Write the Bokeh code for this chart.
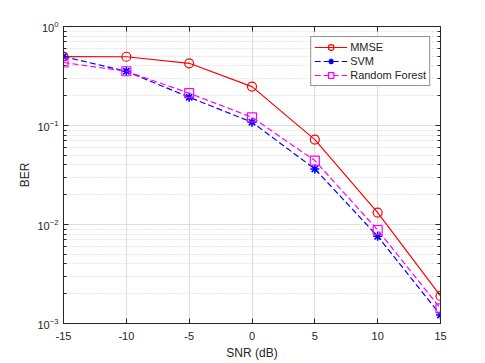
from bokeh.plotting import figure
from bokeh.models import Range1d, FixedTicker, LogAxis, LinearAxis, CustomJSTickFormatter
from bokeh.embed import file_html
from bokeh.resources import INLINE

# ---- data ----
snr = [-15, -10, -5, 0, 5, 10, 15]
ber_mmse = [0.497, 0.495, 0.425, 0.247, 0.072, 0.0132, 0.0019]
ber_svm = [0.497, 0.353, 0.193, 0.108, 0.0364, 0.0076, 0.00122]
ber_rf = [0.433, 0.353, 0.212, 0.121, 0.0442, 0.0088, 0.00142]

x_ticks = [-15, -10, -5, 0, 5, 10, 15]
y_ticks = [1e-3, 1e-2, 1e-1, 1.0]
y_minor = [m * d for d in (1e-3, 1e-2, 1e-1) for m in range(2, 10)]

FONT = "Liberation Sans"
AX = "#262626"

p = figure(frame_width=377, frame_height=297, y_axis_type="log",
           x_range=Range1d(-15, 15), y_range=Range1d(1e-3, 1.0),
           output_backend="svg", toolbar_location=None,
           min_border_left=63, min_border_right=38, min_border_top=26, min_border_bottom=37,
           background_fill_color="white", border_fill_color="white")
p.outline_line_color = AX
p.outline_line_width = 1

# axes
p.xaxis.ticker = FixedTicker(ticks=x_ticks)
p.xaxis.formatter = CustomJSTickFormatter(code="return String(tick)")
p.yaxis.ticker = FixedTicker(ticks=y_ticks, minor_ticks=y_minor)
for ax in (p.xaxis[0], p.yaxis[0]):
    ax.axis_line_color = AX
    ax.major_tick_line_color = AX
    ax.minor_tick_line_color = AX
    ax.major_tick_in = 5
    ax.major_tick_out = 0
    ax.minor_tick_in = 3
    ax.minor_tick_out = 0
    ax.major_label_text_font = FONT
    ax.major_label_text_font_size = "11px"
    ax.major_label_text_color = AX
    ax.axis_label_text_font = FONT
    ax.axis_label_text_font_size = "12px"
    ax.axis_label_text_font_style = "normal"
    ax.axis_label_text_color = AX
p.xaxis.minor_tick_line_color = None
p.xaxis.axis_label = "SNR (dB)"
p.yaxis.axis_label = "BER"
p.xaxis.major_label_standoff = 8
p.xaxis.axis_label_standoff = 3
p.yaxis.major_label_standoff = 5
p.yaxis.axis_label_standoff = 2

blank = CustomJSTickFormatter(code="return ''")
ra = LogAxis(ticker=FixedTicker(ticks=y_ticks, minor_ticks=y_minor), formatter=blank,
             axis_line_color=AX, major_tick_line_color=AX, minor_tick_line_color=AX,
             major_tick_in=5, major_tick_out=0, minor_tick_in=3, minor_tick_out=0,
             major_label_text_font_size="1px", major_label_standoff=0)
p.add_layout(ra, "right")
ta = LinearAxis(ticker=FixedTicker(ticks=x_ticks), formatter=blank,
                axis_line_color=AX, major_tick_line_color=AX, minor_tick_line_color=None,
                major_tick_in=5, major_tick_out=0,
                major_label_text_font_size="1px", major_label_standoff=0)
p.add_layout(ta, "above")

# grids
p.xgrid.ticker = FixedTicker(ticks=x_ticks)
p.ygrid.ticker = FixedTicker(ticks=y_ticks, minor_ticks=y_minor)
p.xgrid.grid_line_color = "#dedede"
p.ygrid.grid_line_color = "#dedede"
p.ygrid.minor_grid_line_color = "#d0d0d0"
p.ygrid.minor_grid_line_dash = "1 2"

# series
p.line(snr, ber_mmse, color="#ff0000", line_width=1.2, legend_label="MMSE")
p.scatter(snr, ber_mmse, marker="circle", size=9, fill_color=None,
          line_color="#ff0000", line_width=1.2, legend_label="MMSE")
p.line(snr, ber_svm, color="#0000ff", line_width=1.2, line_dash="6 3", legend_label="SVM")
p.scatter(snr, ber_svm, marker="asterisk", size=9,
          line_color="#0000ff", line_width=1.6, legend_label="SVM")
p.line(snr, ber_rf, color="#ff00ff", line_width=1.2, line_dash="6 3", legend_label="Random Forest")
p.scatter(snr, ber_rf, marker="square", size=9, fill_color=None,
          line_color="#ff00ff", line_width=1.2, legend_label="Random Forest")

lg = p.legend[0]
lg.location = "top_right"
lg.margin = 10
lg.padding = 3
lg.spacing = 0
lg.glyph_width = 33
lg.glyph_height = 14
lg.label_height = 14
lg.label_standoff = 3
lg.label_text_font = FONT
lg.label_text_font_size = "11px"
lg.label_text_color = AX
lg.border_line_color = AX
lg.border_line_width = 1
lg.background_fill_color = "white"
lg.background_fill_alpha = 1

open("out.html", "w").write(file_html(p, INLINE))
